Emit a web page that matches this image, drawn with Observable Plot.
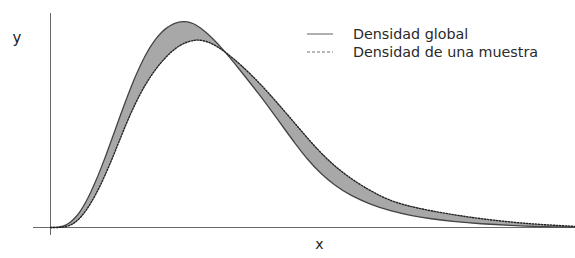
<!DOCTYPE html>
<html>
<head>
<meta charset="utf-8">
<script src="https://cdn.jsdelivr.net/npm/d3@7"></script>
<script src="https://cdn.jsdelivr.net/npm/@observablehq/plot@0.6"></script>
<style>
  html, body { margin: 0; padding: 0; background: #ffffff; }
  #wrap { position: relative; width: 575px; height: 258px; font-family: "DejaVu Sans", Verdana, sans-serif; }
  .sw { position: absolute; left: 307px; width: 26px; height: 4px; }
  .lt { position: absolute; left: 353px; font-size: 14.3px; line-height: normal; color: #2a2a2a; white-space: nowrap; }
</style>
</head>
<body>
<div id="wrap">
  <div id="chart"></div>
  <svg class="sw" style="top:32px"><line x1="0" y1="2" x2="26" y2="2" stroke="#b0b0b0" stroke-width="2"/></svg>
  <div class="lt" id="lg1" style="top:26px"></div>
  <svg class="sw" style="top:50px"><line x1="0" y1="2" x2="26" y2="2" stroke="#b8b8b8" stroke-width="2" stroke-dasharray="3,2"/></svg>
  <div class="lt" id="lg2" style="top:44px"></div>
</div>
<script>
// Series names
const seriesNames = ["Densidad global", "Densidad de una muestra"];
const axisLabels = { x: "x", y: "y" };

// Global density curve
const globalX = [0, 0.10, 0.20, 0.30, 0.40, 0.50, 0.60, 0.70, 0.80, 0.90, 1.00, 1.10, 1.20, 1.30, 1.40, 1.50, 1.60, 1.70, 1.80, 1.90, 2.00, 2.10, 2.20, 2.30, 2.40, 2.50, 2.60, 2.67, 2.80, 2.90, 3.00, 3.10, 3.20, 3.30, 3.40, 3.50, 3.66, 3.90, 4.16, 4.40, 4.66, 4.90, 5.14, 5.40, 5.70, 6.00, 6.40, 6.80, 7.20, 7.60, 8.10, 8.60, 9.20, 9.80, 10.50];
const globalY = [0, 0.0005, 0.0035, 0.011, 0.026, 0.0495, 0.082, 0.1235, 0.173, 0.2285, 0.29, 0.355, 0.423, 0.4925, 0.5625, 0.6305, 0.6955, 0.7565, 0.8125, 0.8625, 0.9055, 0.942, 0.9715, 0.994, 1.011, 1.0225, 1.029, 1.030, 1.025, 1.015, 0.9975, 0.9775, 0.955, 0.93, 0.9035, 0.875, 0.8275, 0.7525, 0.67, 0.59, 0.50, 0.4175, 0.34, 0.27, 0.2075, 0.16, 0.115, 0.0825, 0.06, 0.0435, 0.0285, 0.0185, 0.01, 0.0045, 0.001];

// Sample density curve
const sampleX = [0, 0.10, 0.20, 0.30, 0.40, 0.50, 0.60, 0.70, 0.80, 0.90, 1.00, 1.10, 1.20, 1.30, 1.40, 1.50, 1.60, 1.70, 1.80, 1.90, 2.00, 2.10, 2.20, 2.30, 2.40, 2.50, 2.60, 2.70, 2.80, 2.90, 2.94, 3.04, 3.14, 3.24, 3.34, 3.44, 3.52, 3.66, 3.80, 4.00, 4.20, 4.50, 4.90, 5.40, 5.90, 6.40, 6.80, 7.20, 7.60, 8.10, 8.60, 9.20, 9.80, 10.50];
const sampleY = [0, 0, 0.0006, 0.0036, 0.0114, 0.0264, 0.0498, 0.081, 0.1189, 0.1627, 0.2119, 0.2659, 0.3241, 0.3853, 0.4478, 0.509, 0.5672, 0.6212, 0.6704, 0.7148, 0.7545, 0.7899, 0.8217, 0.8499, 0.8745, 0.8953, 0.9118, 0.9242, 0.9326, 0.937, 0.9375, 0.9355, 0.9285, 0.9175, 0.9035, 0.887, 0.872, 0.844, 0.814, 0.767, 0.717, 0.634, 0.5175, 0.37, 0.26, 0.1825, 0.1325, 0.105, 0.0835, 0.062, 0.044, 0.027, 0.0145, 0.0055];

document.getElementById("lg1").textContent = seriesNames[0];
document.getElementById("lg2").textContent = seriesNames[1];

const globalData = globalX.map((x, i) => ({x, y: globalY[i]}));
const sampleData = sampleX.map((x, i) => ({x, y: sampleY[i]}));
// Band between the two curves: global forward, sample backward
const band = globalData.concat(sampleData.slice().reverse());

const chart = Plot.plot({
  width: 575,
  height: 258,
  marginLeft: 33,
  marginRight: 0,
  marginTop: 13,
  marginBottom: 23,
  x: { domain: [-0.34, 10.5], axis: null },
  y: { domain: [-0.04, 1.07], axis: null },
  style: { background: "transparent", fontFamily: "DejaVu Sans, Verdana, sans-serif" },
  marks: [
    Plot.line(band, { x: "x", y: "y", fill: "#a8a8a8", stroke: "none", curve: "basis" }),
    Plot.ruleY([0], { stroke: "#6a6a6a", strokeWidth: 1 }),
    Plot.ruleX([0], { stroke: "#6a6a6a", strokeWidth: 1 }),
    Plot.line(globalData, { x: "x", y: "y", stroke: "#444", strokeWidth: 1.3, curve: "basis" }),
    Plot.line(sampleData, { x: "x", y: "y", stroke: "#222", strokeWidth: 1.4, strokeDasharray: "1.4,1.6", curve: "basis" }),
    Plot.text([axisLabels.y], { text: d => d, frameAnchor: "top-left", dx: -21, dy: 19, fontSize: 15, fill: "#222" }),
    Plot.text([axisLabels.x], { text: d => d, frameAnchor: "bottom", dx: 15, dy: 13, fontSize: 14, fill: "#222" })
  ]
});
document.getElementById("chart").appendChild(chart);
</script>
</body>
</html>
